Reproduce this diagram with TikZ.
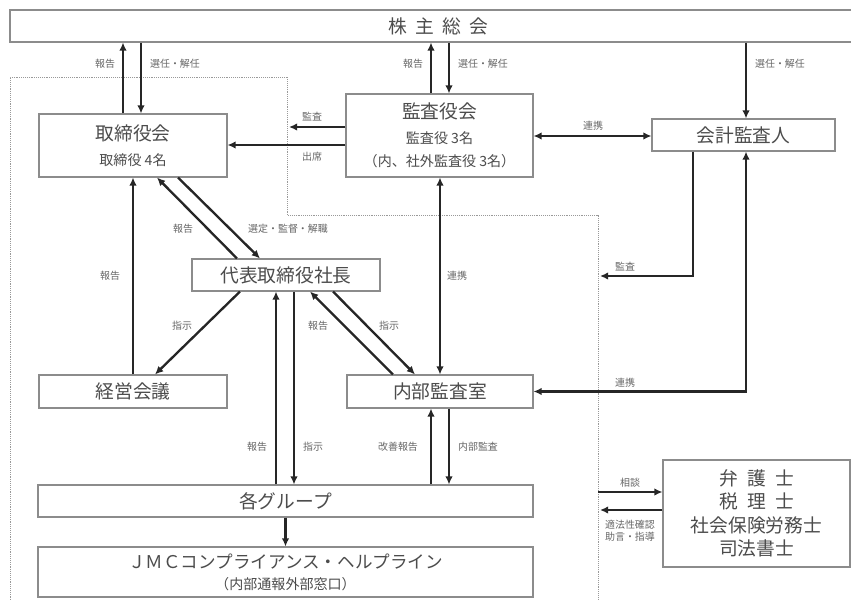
\documentclass[tikz,border=0pt]{standalone}
\usepackage{fontspec}
\setmainfont{Noto Sans CJK JP}
\usetikzlibrary{arrows.meta}

\newcommand\subtxt[1]{{\fontsize{12}{14}\selectfont #1}}

\begin{document}
\begin{tikzpicture}[
    x=0.03cm, y=-0.03cm,
    % Define styles for reusable components
    box/.style={draw=black!45, line width=0.9pt, fill=white, text=black!70, inner sep=0pt,
                align=center, font=\fontsize{16}{20}\selectfont},
    lbl/.style={text=black!60, inner sep=0pt, font=\fontsize{8.5}{10}\selectfont, align=center},
    arrow/.style={-{Latex[length=7pt, width=6.5pt]}, line width=2pt, black!85},
    both/.style={{Latex[length=7pt, width=6.5pt]}-{Latex[length=7pt, width=6.5pt]}, line width=2pt, black!85},
    zone/.style={densely dotted, black!40, line width=0.6pt}
]
    \useasboundingbox (0,0) rectangle (851,600);

    % --- COMPANY ZONE (dotted) ---
    \draw[zone] (10,600) -- (10,77) -- (287,77) -- (287,215) -- (598,215) -- (598,600);

    % --- BOXES ---
    \node[box, minimum width=25.68cm, minimum height=0.96cm] (kabu) at (438,26)
        {株\hspace{7pt}主\hspace{7pt}総\hspace{7pt}会};
    \node[box, minimum width=5.64cm, minimum height=1.89cm] (tori) at (133,145.5)
        {取締役会\\[1pt]\subtxt{取締役 4名}};
    \node[box, minimum width=5.61cm, minimum height=2.49cm] (kansa) at (439.5,135.5)
        {監査役会\\[1pt]\subtxt{監査役 3名}\\\subtxt{（内、社外監査役 3名）}};
    \node[box, minimum width=5.49cm, minimum height=0.96cm] (kaikei) at (743.5,135) {会計監査人};
    \node[box, minimum width=5.64cm, minimum height=0.96cm] (shacho) at (286,275) {代表取締役社長};
    \node[box, minimum width=5.64cm, minimum height=0.99cm] (keiei) at (133,391.5) {経営会議};
    \node[box, minimum width=5.58cm, minimum height=0.99cm] (naibu) at (440,391.5) {内部監査室};
    \node[box, minimum width=14.85cm, minimum height=0.96cm] (group) at (285.5,501) {各グループ};
    \node[box, minimum width=14.85cm, minimum height=1.5cm, font=\fontsize{15}{18}\selectfont] (jmc) at (285.5,572)
        {ＪＭＣコンプライアンス・ヘルプライン\\\subtxt{（内部通報外部窓口）}};
    \node[box, minimum width=5.61cm, minimum height=3.21cm, font=\fontsize{16}{20}\selectfont] (bengo) at (756.5,513.5)
        {\makebox[4em][s]{弁\hfill 護\hfill 士}\\\makebox[4em][s]{税\hfill 理\hfill 士}\\社会保険労務士\\司法書士};

    % free ends on the zone border
    \coordinate (kansaEnd) at (289,127);
    \coordinate (kaikeiEnd) at (600,276);
    \coordinate (soudanStart) at (598,492);
    \coordinate (shidouEnd) at (600,510);

    % --- SHAREHOLDERS MEETING ---
    \draw[arrow] (tori.north -| 123,0) -- (kabu.south -| 123,0);
    \draw[arrow] (kabu.south -| 141,0) -- (tori.north -| 141,0);
    \draw[arrow] (kansa.north -| 431,0) -- (kabu.south -| 431,0);
    \draw[arrow] (kabu.south -| 449,0) -- (kansa.north -| 449,0);
    \draw[arrow] (kabu.south -| 746,0) -- (kaikei.north -| 746,0);
    \node[lbl] (l1) at (105,64) {報告};
    \node[lbl] (l2) at (175,64) {選任・解任};
    \node[lbl] (l3) at (413,64) {報告};
    \node[lbl] (l4) at (483,64) {選任・解任};
    \node[lbl] (l5) at (780,64) {選任・解任};

    % --- AUDIT BOARD ---
    \draw[arrow] (kansa.west |- 0,127) -- (kansaEnd);
    \draw[arrow] (kansa.west |- 0,145) -- (tori.east |- 0,145);
    \draw[both] (kansa.east |- 0,136) -- (kaikei.west |- 0,136);
    \draw[both] (kansa.south -| 440,0) -- (naibu.north -| 440,0);
    \node[lbl] (l6) at (312,117) {監査};
    \node[lbl] (l7) at (312,157) {出席};
    \node[lbl] (l8) at (593,126) {連携};
    \node[lbl] (l9) at (457,276) {連携};

    % --- ACCOUNTING AUDITOR ---
    \draw[arrow] (kaikei.south -| 693,0) |- (kaikeiEnd);
    \draw[both] (kaikei.south -| 746,0) |- (naibu.east);
    \node[lbl] (l10) at (625,267) {監査};
    \node[lbl] (l11) at (625,383) {連携};

    % --- BOARD / PRESIDENT ---
    \draw[arrow] (shacho.north -| 237,0) -- (tori.south -| 157,0);
    \draw[arrow] (tori.south -| 178,0) -- (shacho.north -| 260,0);
    \draw[arrow] (keiei.north -| 133,0) -- (tori.south -| 133,0);
    \draw[arrow] (shacho.south -| 240,0) -- (keiei.north -| 155,0);
    \draw[arrow] (naibu.north -| 393,0) -- (shacho.south -| 310,0);
    \draw[arrow] (shacho.south -| 333,0) -- (naibu.north -| 415,0);
    \node[lbl] (l12) at (183,229) {報告};
    \node[lbl] (l13) at (288,229) {選定・監督・解職};
    \node[lbl] (l14) at (110,276) {報告};
    \node[lbl] (l15) at (182,326) {指示};
    \node[lbl] (l16) at (318,326) {報告};
    \node[lbl] (l17) at (389,326) {指示};

    % --- GROUPS ---
    \draw[arrow] (group.north -| 276,0) -- (shacho.south -| 276,0);
    \draw[arrow] (shacho.south -| 294,0) -- (group.north -| 294,0);
    \draw[arrow] (group.north -| 431,0) -- (naibu.south -| 431,0);
    \draw[arrow] (naibu.south -| 449,0) -- (group.north -| 449,0);
    \draw[arrow] (group) -- (jmc);
    \node[lbl] (l18) at (257,447) {報告};
    \node[lbl] (l19) at (313,447) {指示};
    \node[lbl] (l20) at (398,447) {改善報告};
    \node[lbl] (l21) at (478,447) {内部監査};

    % --- EXPERTS ---
    \draw[arrow] (soudanStart) -- (bengo.west |- soudanStart);
    \draw[arrow] (bengo.west |- shidouEnd) -- (shidouEnd);
    \node[lbl] (l22) at (630,483) {相談};
    \node[lbl] (l23) at (630,531) {適法性確認\\助言・指導};

\end{tikzpicture}
\end{document}
